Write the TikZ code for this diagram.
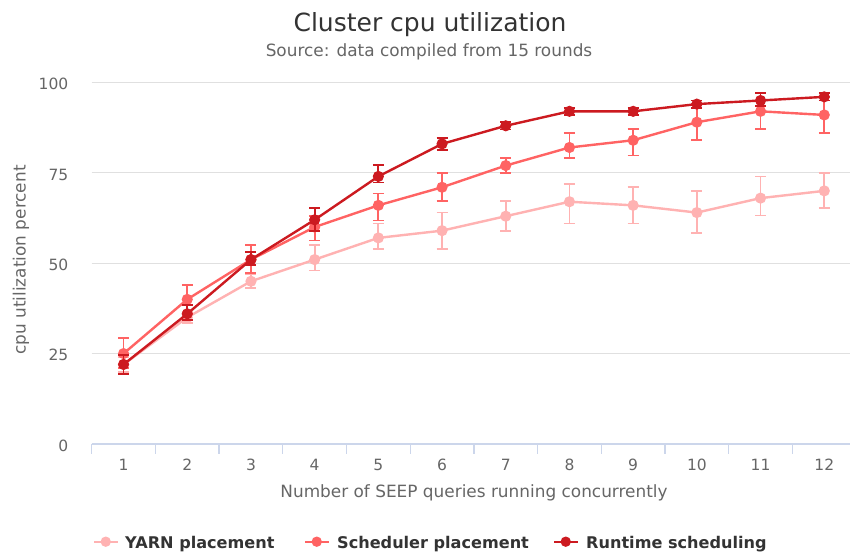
\documentclass[tikz,border=0pt]{standalone}
\usepackage{fontspec}
\setmainfont{DejaVu Sans}
\usetikzlibrary{calc}
\definecolor{titlegray}{HTML}{333333}
\definecolor{labelgray}{HTML}{666666}
\definecolor{gridgray}{HTML}{E0E0E0}
\definecolor{axisblue}{HTML}{CCD6EB}
\definecolor{yarncol}{HTML}{FFB2B2}
\definecolor{schedcol}{HTML}{FF6363}
\definecolor{runcol}{HTML}{CC1A20}
\begin{document}
\begin{tikzpicture}[x=1pt,y=-1pt,
  gridline/.style={draw=gridgray,line width=1.2pt},
  axisline/.style={draw=axisblue,line width=1.3pt},
  ticklabel/.style={text=labelgray,font=\fontsize{15.5}{18}\selectfont,inner sep=0pt},
  axistitle/.style={text=labelgray,font=\fontsize{16.9}{20}\selectfont,inner sep=0pt},
  legendtext/.style={text=titlegray,font=\bfseries\fontsize{16.1}{19}\selectfont,inner sep=0pt,anchor=base west},
  seriesline/.style={line width=2.4pt,line join=round,line cap=round},
  errbar/.style={line width=1.8pt},
]
\useasboundingbox (0,0) rectangle (850,556);
\fill[white] (0,0) rectangle (850,556);

% horizontal grid and value labels
\foreach \v in {25,50,75,100} {
  \draw[gridline] (91.7,{444-3.616*\v}) -- (850,{444-3.616*\v});
}
\foreach \v in {0,25,50,75,100} {
  \node[ticklabel,anchor=base east] (ylab\v) at (68.5,{451.3-3.616*\v}) {\v};
}

% category axis with ticks at category boundaries
\draw[axisline] (91.7,444) -- (850,444);
\foreach \k in {0,...,12} {
  \draw[axisline] ({91.7+\k*63.7},444) -- ({91.7+\k*63.7},454);
}
\foreach \k in {1,...,12} {
  \node[ticklabel,anchor=base] (xlab\k) at ({91.7+(\k-0.5)*63.7},470.6) {\k};
}

% titles
\node[text=titlegray,font=\fontsize{25}{30}\selectfont,inner sep=0pt,anchor=base] (title) at (430,31.7) {Cluster cpu utilization};
\node[text=labelgray,font=\fontsize{16.9}{20}\selectfont,inner sep=0pt,anchor=base] (subtitle) at (429,57) {Source: data compiled from 15 rounds};
\node[axistitle,anchor=base] (xtitle) at (474,497) {Number of SEEP queries running concurrently};
\node[axistitle,anchor=base,rotate=90] (ytitle) at (25.5,260) {cpu utilization percent};

% one series: name prefix, colour, index/value/low/high
\newcommand{\plotseries}[3]{%
  \foreach \i/\v/\lo/\hi in {#3} {
    \pgfmathsetmacro\px{91.7+(\i-0.5)*63.7}
    \pgfmathsetmacro\pl{444-3.616*\lo}
    \pgfmathsetmacro\ph{444-3.616*\hi}
    \coordinate (#1\i) at (\px,{444-3.616*\v});
    \draw[errbar,#2] (\px-5.5,\ph) -- (\px+5.5,\ph)
                     (\px,\ph) -- (\px,\pl)
                     (\px-5.5,\pl) -- (\px+5.5,\pl);
  }
  \draw[seriesline,#2] (#11) \foreach \k in {2,...,12} { -- (#1\k) };
  \foreach \k in {1,...,12} { \fill[#2] (#1\k) circle (5.6); }
}

\plotseries{yarn}{yarncol}{1/22/20/24, 2/35/33.5/36.5, 3/45/43.2/47, 4/51/48/55, 5/57/54/61, 6/59/54/64, 7/63/59/67.3, 8/67/61/72, 9/66/61/71, 10/64/58.4/70, 11/68/63.2/74, 12/70/65.3/75}
\plotseries{sched}{schedcol}{1/25/21/29.4, 2/40/36/44, 3/51/47.2/55, 4/60/56.3/63, 5/66/61.8/69.3, 6/71/67.3/74.9, 7/77/75/79, 8/82/79.1/86.1, 9/84/79.8/87.1, 10/89/84/94, 11/92/87.2/97, 12/91/86.1/96}
\plotseries{run}{runcol}{1/22/19.3/24.7, 2/36/34.3/38.4, 3/51/49.5/53, 4/62/59/65.3, 5/74/72.3/77.1, 6/83/81.2/84.6, 7/88/87/89, 8/92/91/93, 9/92/91/93, 10/94/93/95, 11/95/93.5/97, 12/96/95/97}

% legend
\foreach \name/\col/\sx/\tx/\txt in {
    lyarn/yarncol/94/125/{YARN placement},
    lsched/schedcol/305/337/{Scheduler placement},
    lrun/runcol/554/586/{Runtime scheduling}} {
  \coordinate (\name a) at (\sx,541.7);
  \coordinate (\name b) at (\sx+23.5,541.7);
  \draw[\col,line width=2.4pt] (\name a) -- (\name b);
  \fill[\col] ($(\name a)!0.5!(\name b)$) circle (5.2);
  \node[legendtext] (\name t) at (\tx,548.3) {\txt};
}
\end{tikzpicture}
\end{document}
